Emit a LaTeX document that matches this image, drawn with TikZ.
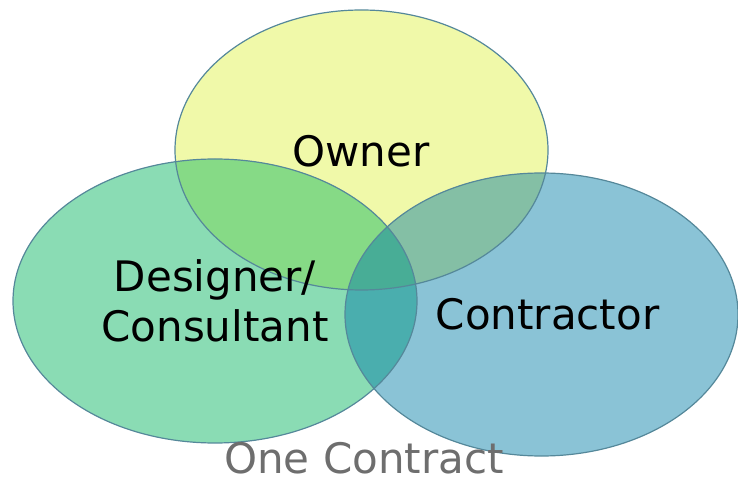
\documentclass[tikz,border=0pt]{standalone}
\usepackage{fontspec}
\setmainfont{DejaVu Sans}
\definecolor{cO}{HTML}{F0F9A9}
\definecolor{cD}{HTML}{8ADCB4}
\definecolor{cC}{HTML}{8AC3D6}
\definecolor{cOD}{HTML}{86DA86}
\definecolor{cOC}{HTML}{84BFA5}
\definecolor{cDC}{HTML}{4AAEAE}
\definecolor{cODC}{HTML}{48AD96}
\definecolor{edge}{HTML}{55889A}
\definecolor{capgray}{HTML}{6E6E6E}
\begin{document}
\begin{tikzpicture}[x=1pt,y=1pt,
  lbl/.style={font=\fontsize{42}{50}\selectfont, text=black, inner sep=0pt, anchor=base},
  rim/.style={draw=edge, line width=1.2pt}]
\useasboundingbox (0,0) rectangle (738,479);
\def\Oshape{(361.5,329) ellipse [x radius=186.5, y radius=140]}
\def\Dshape{(215,178) ellipse [x radius=202, y radius=142]}
\def\Cshape{(541.5,164.5) ellipse [x radius=196.5, y radius=141.5]}
\fill[cO] \Oshape;
\fill[cD] \Dshape;
\fill[cC] \Cshape;
\begin{scope}
  \clip \Dshape;
  \fill[cDC] \Cshape;
\end{scope}
\begin{scope}
  \clip \Oshape;
  \fill[cOD] \Dshape;
  \fill[cOC] \Cshape;
  \clip \Dshape;
  \fill[cODC] \Cshape;
\end{scope}
\draw[rim] \Oshape;
\draw[rim] \Dshape;
\draw[rim] \Cshape;
\node[lbl] (owner) at (361,312) {Owner};
\node[lbl] (designer) at (215,187) {Designer/};
\node[lbl] (consultant) at (215,137) {Consultant};
\node[lbl] (contractor) at (547.5,149) {Contractor};
\node[lbl, text=capgray] (one) at (364,6) {One Contract};
\end{tikzpicture}
\end{document}
